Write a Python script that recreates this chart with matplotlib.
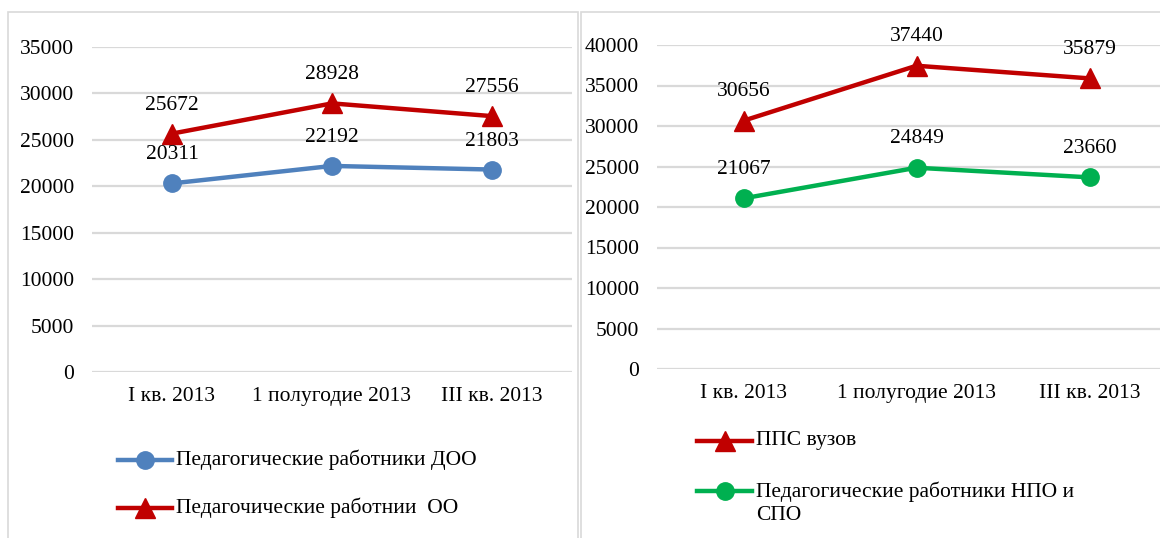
import matplotlib
matplotlib.use("Agg")
import matplotlib.pyplot as plt
from matplotlib.lines import Line2D
from matplotlib.patches import Rectangle

plt.rcParams['font.family'] = ['Liberation Serif', 'DejaVu Serif']

categories = ["I кв. 2013", "1 полугодие 2013", "III кв. 2013"]

left_names = ["Педагогические работники ДОО", "Педагочические работнии  ОО"]
doo = [20311, 22192, 21803]
oo = [25672, 28928, 27556]

right_names = ["ППС вузов", "Педагогические работники НПО и\nСПО"]
pps = [30656, 37440, 35879]
npo = [21067, 24849, 23660]

BLUE = "#4F81BD"
RED = "#C00000"
GREEN = "#00B050"
GRID = "#D9D9D9"
FS = 15.5

W, H = 1160, 538
fig = plt.figure(figsize=(W / 100, H / 100), dpi=100)


def px_axes(x0, y0, x1, y1):
    return fig.add_axes([x0 / W, 1 - y1 / H, (x1 - x0) / W, (y1 - y0) / H])


def style(ax, ymax, step):
    ax.set_ylim(0, ymax)
    ax.set_yticks(range(0, ymax + 1, step))
    ax.set_xlim(-0.5, 2.5)
    ax.set_xticks(range(len(categories)))
    ax.set_xticklabels(categories)
    for s in ax.spines.values():
        s.set_visible(False)
    ax.grid(axis='y', color=GRID, lw=1.6)
    ax.set_axisbelow(True)
    ax.tick_params(axis='y', length=0, pad=13, labelsize=FS)
    ax.tick_params(axis='x', length=0, pad=11, labelsize=FS)


def plot_series(ax, vals, color, marker, ms, off):
    ax.plot(range(len(vals)), vals, color=color, lw=3.2, marker=marker, ms=ms,
            clip_on=False, zorder=3)
    for i, v in enumerate(vals):
        ax.annotate(str(v), (i, v), xytext=(0, off), textcoords='offset points',
                    ha='center', va='center', fontsize=FS, zorder=4)


# panel frames
fig.add_artist(Rectangle((8 / W, -0.1), (578 - 8) / W, 1.1 - 12 / H,
                         transform=fig.transFigure, fill=False, ec=GRID, lw=1.2))
fig.add_artist(Rectangle((581 / W, -0.1), 0.6, 1.1 - 12 / H,
                         transform=fig.transFigure, fill=False, ec=GRID, lw=1.2))

axL = px_axes(92, 47, 572, 372)
style(axL, 35000, 5000)
plot_series(axL, doo, BLUE, 'o', 12.5, 20.5)
plot_series(axL, oo, RED, '^', 14, 20.5)

axR = px_axes(657, 45, 1176, 369)
style(axR, 40000, 5000)
plot_series(axR, pps, RED, '^', 14, 21)
plot_series(axR, npo, GREEN, 'o', 12.5, 21)


def legend_item(x0, x1, y, color, marker, ms, text):
    fig.add_artist(Line2D([x0 / W, x1 / W], [1 - y / H, 1 - y / H], transform=fig.transFigure,
                          color=color, lw=3.2))
    fig.add_artist(Line2D([(x0 + x1) / 2 / W], [1 - y / H], transform=fig.transFigure,
                          color=color, marker=marker, ms=ms, lw=0))
    if '\n' in text:
        fig.text((x1 + 4) / W, 1 - (y - 10) / H, text, fontsize=FS, va='top', ha='left',
                 linespacing=1.3, transform=fig.transFigure)
    else:
        fig.text((x1 + 4) / W, 1 - y / H, text, fontsize=FS, va='center', ha='left',
                 transform=fig.transFigure)


legend_item(118, 172, 460, BLUE, 'o', 12.5, left_names[0])
legend_item(118, 172, 508, RED, '^', 14, left_names[1])
legend_item(697, 752, 441, RED, '^', 14, right_names[0])
legend_item(697, 752, 491, GREEN, 'o', 12.5, right_names[1])

fig.savefig("out.png", dpi=100)
